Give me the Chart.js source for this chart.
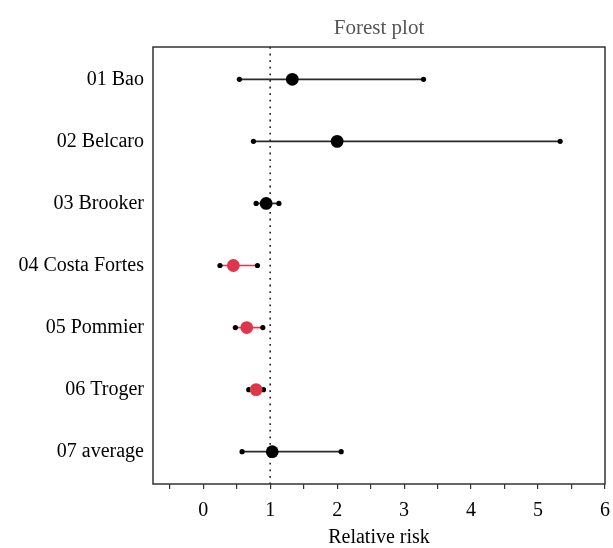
<!DOCTYPE html>
<html>
<head>
<meta charset="utf-8">
<script src="https://cdn.jsdelivr.net/npm/chart.js@4"></script>
<style>
  html, body { margin: 0; padding: 0; background: #fff; }
  canvas { display: block; }
</style>
</head>
<body>
<canvas id="grafico" width="613" height="548"></canvas>
<script>
// dados
const estudos = ['01 Bao', '02 Belcaro', '03 Brooker', '04 Costa Fortes', '05 Pommier', '06 Troger', '07 average'];
const inferior = [0.54, 0.75, 0.79, 0.25, 0.48, 0.68, 0.58];
const estimativa = [1.33, 2.00, 0.94, 0.45, 0.65, 0.79, 1.03];
const superior = [3.29, 5.33, 1.13, 0.81, 0.89, 0.90, 2.06];
const destaque = [false, false, false, true, true, true, false];
const ticksX = [-0.5, 0, 0.5, 1, 1.5, 2, 2.5, 3, 3.5, 4, 4.5, 5, 5.5, 6];
const linhaRef = 1;

const VERMELHO = '#e0364b';
const PRETO = '#000';
const Y_MIN = 0.48, Y_MAX = 7.52;
const FONTE = "'Liberation Serif', 'DejaVu Serif', serif";

const datasets = [];

// pontos das estimativas (primeiro dataset fica por cima)
datasets.push({
  type: 'scatter',
  data: estimativa.map((v, i) => ({ x: v, y: i + 1 })),
  pointRadius: 6.4,
  pointBorderWidth: 0,
  pointBackgroundColor: destaque.map(d => d ? VERMELHO : PRETO),
  pointHoverRadius: 6.4,
});

// intervalos de confianca
estudos.forEach((nome, i) => {
  datasets.push({
    type: 'line',
    data: [{ x: inferior[i], y: i + 1 }, { x: superior[i], y: i + 1 }],
    borderColor: destaque[i] ? VERMELHO : '#2a2a2a',
    borderWidth: 1.7,
    pointRadius: 2.6,
    pointBorderWidth: 0,
    pointBackgroundColor: PRETO,
    pointHoverRadius: 2.6,
  });
});

// linha pontilhada em RR = 1
datasets.push({
  type: 'line',
  data: [{ x: linhaRef, y: Y_MIN }, { x: linhaRef, y: Y_MAX }],
  borderColor: '#222',
  borderWidth: 1.6,
  borderDash: [1.8, 4.8],
  pointRadius: 0,
});

const moldura = {
  id: 'moldura',
  afterDatasetsDraw(chart) {
    const { ctx, chartArea: a } = chart;
    ctx.save();
    ctx.strokeStyle = '#333';
    ctx.lineWidth = 1.5;
    ctx.strokeRect(a.left, a.top, a.right - a.left, a.bottom - a.top);
    ctx.restore();
  }
};

const semPadLateral = (s, h) => { s.height = h; s.paddingLeft = 0; s.paddingRight = 0; };

new Chart(document.getElementById('grafico'), {
  data: { datasets },
  plugins: [moldura],
  options: {
    responsive: false,
    animation: false,
    layout: { padding: { left: 0, right: 8, top: 0, bottom: 0 } },
    plugins: {
      legend: { display: false },
      tooltip: { enabled: false },
    },
    scales: {
      x: {
        type: 'linear',
        position: 'bottom',
        min: -0.75,
        max: 6,
        afterBuildTicks: s => { s.ticks = ticksX.map(v => ({ value: v })); },
        afterFit: s => semPadLateral(s, 64),
        border: { display: false },
        grid: { drawOnChartArea: false, drawTicks: true, tickLength: 5, color: '#333', lineWidth: 1.2 },
        ticks: {
          autoSkip: false,
          maxRotation: 0,
          padding: 10,
          color: '#000',
          font: { family: FONTE, size: 20 },
          callback: v => Number.isInteger(v) ? String(v) : '',
        },
        title: {
          display: true,
          text: 'Relative risk',
          color: '#000',
          font: { family: FONTE, size: 20, lineHeight: 1.0 },
          padding: { top: 0, bottom: 0 },
        },
      },
      xTopo: {
        type: 'linear',
        position: 'top',
        min: -0.75,
        max: 6,
        afterFit: s => semPadLateral(s, 47),
        border: { display: false },
        grid: { display: false },
        ticks: { display: false },
        title: {
          display: true,
          text: 'Forest plot',
          color: '#555',
          font: { family: FONTE, size: 21, lineHeight: 1.2 },
          padding: { top: 16, bottom: 0 },
        },
      },
      y: {
        type: 'linear',
        reverse: true,
        min: Y_MIN,
        max: Y_MAX,
        afterBuildTicks: s => { s.ticks = estudos.map((_, i) => ({ value: i + 1 })); },
        afterFit: s => { s.width = 153; },
        border: { display: false },
        grid: { display: false, drawTicks: false },
        ticks: {
          autoSkip: false,
          padding: 9,
          color: '#000',
          font: { family: FONTE, size: 20 },
          callback: v => estudos[v - 1] ?? '',
        },
      },
    },
  },
});
</script>
</body>
</html>
